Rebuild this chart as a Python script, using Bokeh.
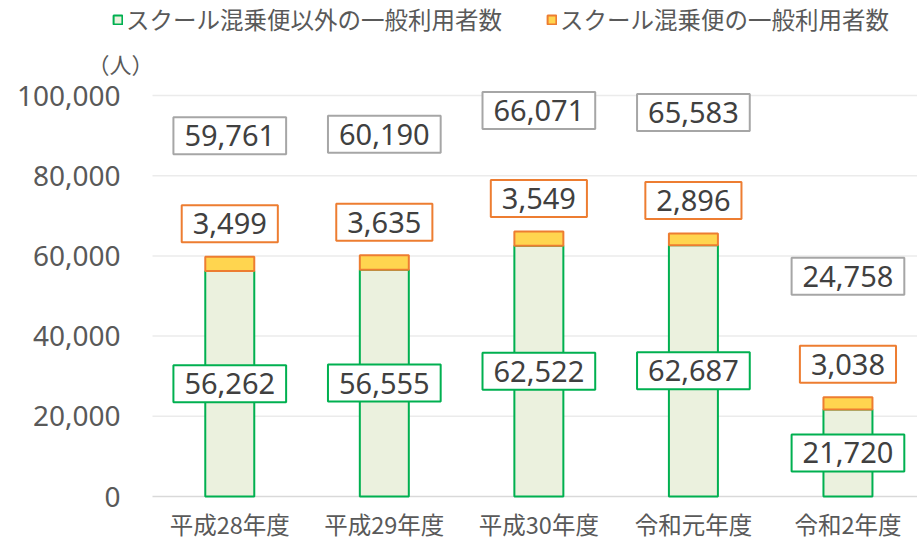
from bokeh.plotting import figure
from bokeh.models import Range1d, Label, Legend, LegendItem
from bokeh.embed import file_html
from bokeh.resources import INLINE

categories = ["平成28年度", "平成29年度", "平成30年度", "令和元年度", "令和2年度"]
others = [56262, 56555, 62522, 62687, 21720]      # スクール混乗便以外の一般利用者数
school = [3499, 3635, 3549, 2896, 3038]           # スクール混乗便の一般利用者数
totals = [59761, 60190, 66071, 65583, 24758]
series_names = ["スクール混乗便以外の一般利用者数", "スクール混乗便の一般利用者数"]
y_ticks = [0, 20000, 40000, 60000, 80000, 100000]

GREEN = "#00B050"
GREEN_FILL = "#EBF1DE"
ORANGE = "#ED7D31"
ORANGE_FILL = "#FFD54F"
GRAY_BOX = "#A6A6A6"
TEXT = "#404040"
AXIS_TEXT = "#595959"
NUM_FONT = "Noto Sans"
CJK_FONT = "Noto Sans CJK JP"

xs = list(range(len(categories)))
X_LEFT, X_RIGHT = -0.5, 4.45               # plotting area (gridlines) extent
UNIT = (917 - 152) / (X_RIGHT - X_LEFT)    # pixels per category
PX_Y = 401 / 100000                        # pixels per person
# frame covers the whole canvas (annotations are clipped to the frame)
X_START = X_LEFT - 152 / UNIT
Y_TOP = 496 / PX_Y
Y_BOTTOM = -44 / PX_Y

p = figure(width=917, height=540, output_backend="svg", toolbar_location=None,
           x_range=Range1d(X_START, X_RIGHT), y_range=Range1d(Y_BOTTOM, Y_TOP),
           min_border_left=0, min_border_right=0, min_border_top=0,
           min_border_bottom=0)
p.outline_line_color = None
p.background_fill_color = "white"
p.border_fill_color = "white"
p.xaxis.visible = False
p.yaxis.visible = False
p.grid.grid_line_color = None

# horizontal gridlines over the plotting area only
grid_colors = ["#D9D9D9" if t == 0 else "#EBEBEB" for t in y_ticks]
p.segment(x0=[X_LEFT] * len(y_ticks), x1=[X_RIGHT] * len(y_ticks),
          y0=y_ticks, y1=y_ticks, line_color=grid_colors, line_width=1.5)

g = p.vbar(x=xs, top=others, bottom=0, width=0.317, fill_color=GREEN_FILL,
           line_color=GREEN, line_width=2)
o = p.vbar(x=xs, top=totals, bottom=others, width=0.317, fill_color=ORANGE_FILL,
           line_color=ORANGE, line_width=2)

# category labels
for i, c in enumerate(categories):
    p.add_layout(Label(x=i, y=0, text=c, y_offset=-27,
                       text_align="center", text_baseline="middle",
                       text_font=CJK_FONT, text_font_size="23.5px",
                       text_color=AXIS_TEXT))

# y tick labels
for t in y_ticks:
    p.add_layout(Label(x=X_LEFT, y=t, text=f"{t:,}", x_offset=-32,
                       text_align="right", text_baseline="middle",
                       text_font=NUM_FONT, text_font_size="28px",
                       text_color=AXIS_TEXT))

def box_label(x, y, txt, color, yoff):
    p.add_layout(Label(x=x, y=y, text=txt, y_offset=yoff,
                       text_align="center", text_baseline="middle",
                       text_font=NUM_FONT, text_font_size="29px", text_color=TEXT,
                       background_fill_color="white", border_line_color=color,
                       border_line_width=2,
                       padding=dict(left=11, right=11, top=8, bottom=8)))

for i in xs:
    box_label(i, others[i] / 2, f"{others[i]:,}", GREEN, 0)
    box_label(i, totals[i], f"{school[i]:,}", ORANGE, 33)
    box_label(i, totals[i], f"{totals[i]:,}", GRAY_BOX, 121)

p.add_layout(Label(x=X_LEFT, y=100000, text="（人）", x_offset=-32, y_offset=33,
                   text_align="center", text_baseline="middle",
                   text_font=CJK_FONT, text_font_size="22px", text_color=AXIS_TEXT))

legend = Legend(items=[LegendItem(label=series_names[0], renderers=[g]),
                       LegendItem(label=series_names[1], renderers=[o])],
                orientation="horizontal", location=(112, 504),
                label_text_font=CJK_FONT, label_text_font_size="23.5px",
                label_text_color=AXIS_TEXT, glyph_width=11, glyph_height=11,
                label_standoff=3, spacing=44, padding=0, margin=0,
                border_line_color=None, background_fill_alpha=0)
p.add_layout(legend, "center")

open("out.html", "w").write(file_html(p, INLINE))
